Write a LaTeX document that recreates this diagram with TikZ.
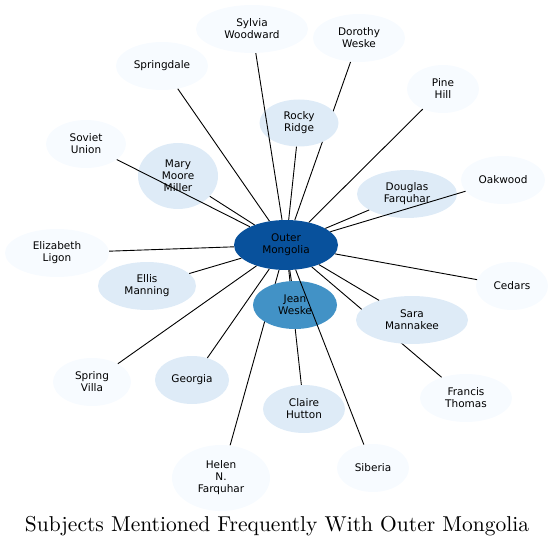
\documentclass[tikz,border=0pt]{standalone}
\usepackage{fontspec}
\newfontfamily\subjfont{DejaVu Sans}
\usetikzlibrary{shapes.geometric}
\pgfdeclarelayer{bg}
\pgfsetlayers{bg,main}
\definecolor{bluePale}{HTML}{F7FBFF}
\definecolor{blueLight}{HTML}{DEEBF7}
\definecolor{blueMid}{HTML}{4292C6}
\definecolor{blueDark}{HTML}{08519C}
\tikzset{
	subj/.style={ellipse, inner sep=0pt, align=center, font=\subjfont\fontsize{10.5}{12}\selectfont},
	rare/.style={subj, fill=bluePale},
	often/.style={subj, fill=blueLight},
	link/.style={line width=0.9pt}
}
\begin{document}
\begin{tikzpicture}[x=1pt, y=-1pt]
		\useasboundingbox (0,0) rectangle (554,548);
		
		% Центр
		\node[subj, fill=blueDark, minimum width=104pt, minimum height=50pt] (om) at (286,245) {Outer\\Mongolia};
		\node[subj, fill=blueMid, minimum width=84pt, minimum height=48pt] (jean) at (295,305) {Jean\\Weske};
		
		% Верх
		\node[rare, minimum width=112pt, minimum height=48pt] (sylvia) at (252,29) {Sylvia\\Woodward};
		\node[rare, minimum width=92pt, minimum height=48pt] (dorothy) at (359,38) {Dorothy\\Weske};
		\node[rare, minimum width=92pt, minimum height=48pt] (springdale) at (162,66) {Springdale};
		\node[rare, minimum width=72pt, minimum height=48pt] (pine) at (443,89) {Pine\\Hill};
		\node[often, minimum width=79pt, minimum height=47pt] (rocky) at (299,123) {Rocky\\Ridge};
		\node[rare, minimum width=80pt, minimum height=48pt] (soviet) at (86,144) {Soviet\\Union};
		\node[often, minimum width=80pt, minimum height=66pt] (mary) at (178,176) {Mary\\Moore\\Miller};
		\node[rare, minimum width=84pt, minimum height=48pt] (oakwood) at (503,180) {Oakwood};
		\node[often, minimum width=100pt, minimum height=48pt] (douglas) at (407,194) {Douglas\\Farquhar};
		
		% Середина
		\node[rare, minimum width=104pt, minimum height=48pt] (elizabeth) at (57,253) {Elizabeth\\Ligon};
		\node[often, minimum width=98pt, minimum height=48pt] (ellis) at (147,286) {Ellis\\Manning};
		\node[rare, minimum width=72pt, minimum height=48pt] (cedars) at (512,286) {Cedars};
		\node[often, minimum width=112pt, minimum height=48pt] (sara) at (412,320) {Sara\\Mannakee};
		
		% Низ
		\node[rare, minimum width=78pt, minimum height=48pt] (springvilla) at (92,382) {Spring\\Villa};
		\node[often, minimum width=74pt, minimum height=48pt] (georgia) at (192,380) {Georgia};
		\node[often, minimum width=82pt, minimum height=48pt] (claire) at (304,409) {Claire\\Hutton};
		\node[rare, minimum width=92pt, minimum height=48pt] (francis) at (466,398) {Francis\\Thomas};
		\node[rare, minimum width=98pt, minimum height=66pt] (helen) at (221,478) {Helen\\N.\\Farquhar};
		\node[rare, minimum width=72pt, minimum height=48pt] (siberia) at (373,468) {Siberia};
		
		% Рёбра
		\foreach \t in {sylvia, springdale, pine, rocky, soviet, mary, oakwood, douglas, elizabeth, ellis, cedars, sara, springvilla, georgia, siberia, jean}
			\draw[link] (om) -- (\t);
		\begin{pgfonlayer}{bg}
			\foreach \t in {dorothy, claire, helen, francis}
				\draw[link] (om) -- (\t);
		\end{pgfonlayer}
		
		\node[scale=2.15, font=\fontsize{10}{12}\selectfont] (title) at (277,526) {Subjects Mentioned Frequently With Outer Mongolia};
	\end{tikzpicture}
\end{document}
